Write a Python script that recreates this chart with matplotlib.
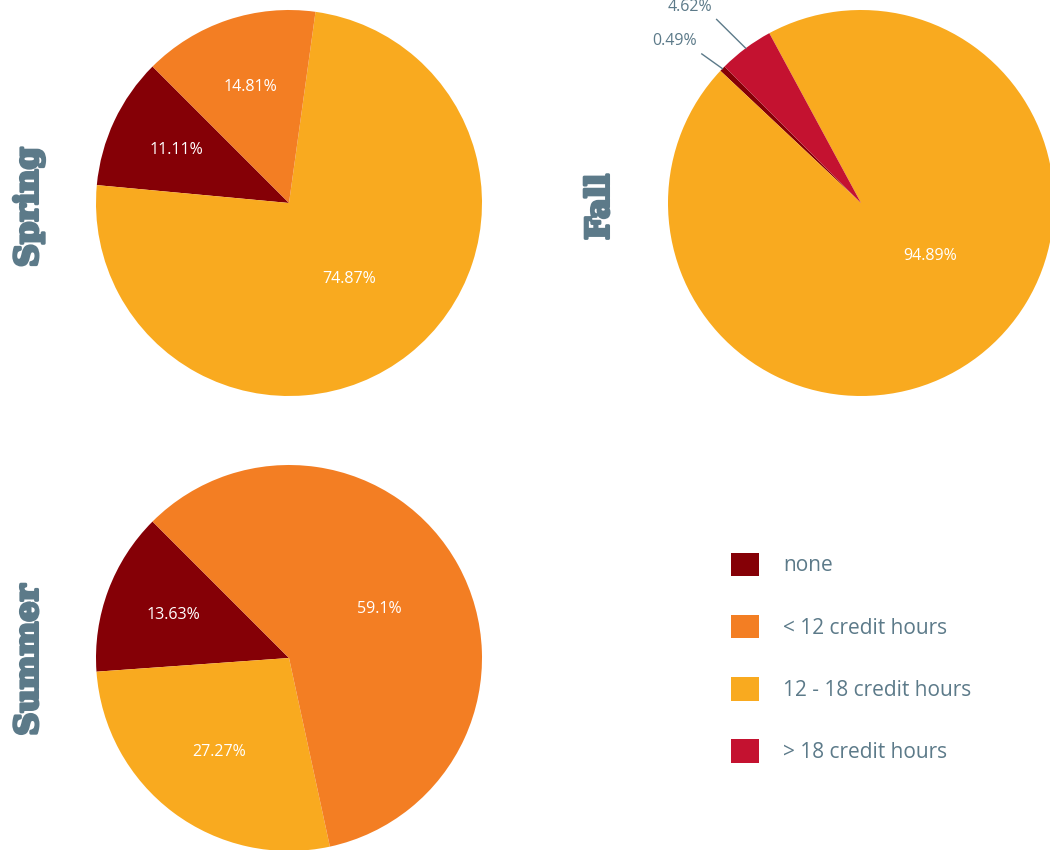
import numpy as np
import matplotlib
matplotlib.use('Agg')
import matplotlib.pyplot as plt
import matplotlib.patheffects as pe
from matplotlib.patches import Patch

# categories in drawing order (counterclockwise from 135 deg)
categories = ['none', '12 - 18 credit hours', '< 12 credit hours', '> 18 credit hours']
legend_order = ['none', '< 12 credit hours', '12 - 18 credit hours', '> 18 credit hours']
colors = {'none': '#850006', '< 12 credit hours': '#F37E23',
          '12 - 18 credit hours': '#F9AA1F', '> 18 credit hours': '#C41230'}

spring = [11.11, 74.87, 14.81, 0]
fall = [0.49, 94.89, 0, 4.62]
summer = [13.63, 27.27, 59.1, 0]
pct_labels = {
    'Spring': ['11.11%', '74.87%', '14.81%', ''],
    'Fall': ['0.49%', '94.89%', '', '4.62%'],
    'Summer': ['13.63%', '27.27%', '59.1%', ''],
}

W, H = 1050, 850
GREY = '#5C7A89'
fig = plt.figure(figsize=(W / 100, H / 100), dpi=100)


def draw_pie(name, vals, cx, cy, r):
    ax = fig.add_axes([(cx - r) / W, 1 - (cy + r) / H, 2 * r / W, 2 * r / H])
    vals = np.array(vals, dtype=float)
    keep = vals > 0
    v = vals[keep]
    cols = [colors[c] for c, k in zip(categories, keep) if k]
    labs = [l for l, k in zip(pct_labels[name], keep) if k]
    wedges, _ = ax.pie(v, colors=cols, startangle=135, counterclock=True,
                       radius=1, wedgeprops=dict(linewidth=0))
    ax.set_xlim(-1, 1)
    ax.set_ylim(-1, 1)
    ax.set_aspect('equal')
    ax.axis('off')
    frac = v / v.sum() * 100
    outside = []
    for w, p, lab in zip(wedges, frac, labs):
        mid = np.deg2rad((w.theta1 + w.theta2) / 2)
        if p < 6:
            outside.append((mid, lab))
            continue
        rr = 0.67 - 0.0023 * p
        # big slices: label sits a bit towards the wide side
        if p > 90:
            mid += np.deg2rad(15)
        ax.text(rr * np.cos(mid), rr * np.sin(mid), lab, color='white',
                ha='center', va='center', fontsize=11.5, family='Open Sans')
    # leader lines for thin slices
    for i, (mid, lab) in enumerate(outside):
        ro = 1.13 if i == 0 else 1.21
        ang = mid + np.deg2rad(1.0 if i == 0 else 1.5)
        x0, y0 = np.cos(mid), np.sin(mid)
        x1, y1 = ro * np.cos(ang), ro * np.sin(ang)
        ax.plot([x0, x1], [y0, y1], color=GREY, lw=1, clip_on=False)
        ax.text(x1 - 0.025, y1 + 0.025, lab, color=GREY, ha='right', va='bottom',
                fontsize=11.5, family='Open Sans', clip_on=False)
    return ax


draw_pie('Spring', spring, 289, 203, 193)
draw_pie('Fall', fall, 861, 203, 193)
draw_pie('Summer', summer, 289, 658, 193)

for title, x, y in [('Spring', 29, 207), ('Fall', 600, 207), ('Summer', 29, 660)]:
    fig.text(x / W, 1 - y / H, title, rotation=90, ha='center', va='center',
             fontsize=23, fontweight='bold', family='DejaVu Serif', color=GREY,
             path_effects=[pe.withStroke(linewidth=2.2, foreground=GREY)])

handles = [Patch(facecolor=colors[c], edgecolor='none') for c in legend_order]
fig.legend(handles, legend_order, loc='upper left',
           bbox_to_anchor=(712 / W, 1 - 534 / H), frameon=False,
           prop={'family': 'Open Sans', 'size': 15}, labelcolor=GREY,
           handlelength=1.35, handleheight=1.35, handletextpad=1.15,
           labelspacing=1.85)

fig.savefig('out.png', dpi=100)
